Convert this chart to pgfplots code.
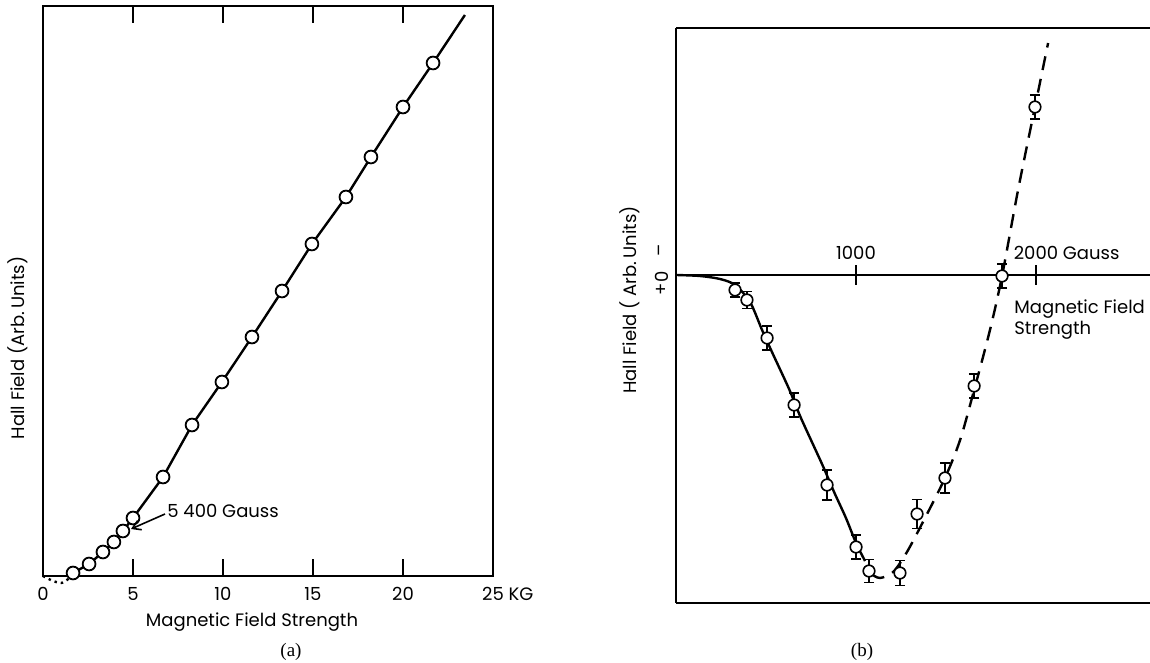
\documentclass[border=0pt]{standalone}
\usepackage{fontspec}
\setmainfont{Poppins}
\newfontfamily\serif{Liberation Serif}
\usepackage{pgfplots}
\pgfplotsset{compat=1.18}
\usetikzlibrary{arrows.meta}

\begin{document}
\begin{tikzpicture}[font=\fontsize{9}{10.5}\selectfont]
\path[use as bounding box] (0,0) rectangle (575pt,331.5pt);

% panel (a)
\begin{axis}[at={(21.5pt,43.5pt)}, anchor=south west, scale only axis,
  width=225pt, height=285pt,
  xmin=0, xmax=25, ymin=0, ymax=57, clip=false,
  axis line style={line width=0.85pt},
  xtick={0,5,10,15,20,25}, xticklabels={0,5,10,15,20,25\rlap{ KG}},
  xticklabel pos=lower, xtick pos=both,
  tick align=inside, major tick length=8.5pt,
  tick style={line width=0.9pt, black},
  ytick=\empty,
  xticklabel style={yshift=-2.3pt, font=\fontsize{9}{10.5}\selectfont},
]
\addplot[line width=1.2pt, dotted, smooth] coordinates {
  (0,0) (0.5,-0.45) (1.0,-0.7) (1.4,-0.3) (1.67,0.3)};
\addplot[line width=1.2pt] coordinates {
  (1.67,0.3) (2.56,1.2) (3.33,2.4) (3.94,3.4) (4.44,4.5) (5.0,5.8)
  (6.67,9.9) (8.28,15.1) (9.94,19.4) (11.61,23.9) (13.28,28.5)
  (14.94,33.2) (16.83,37.9) (18.22,41.9) (20.0,46.9) (21.67,51.3) (23.44,56.1)};
\addplot[only marks, mark=*, mark size=3.2pt,
  mark options={fill=white, draw=black, line width=0.9pt}] coordinates {
  (1.67,0.3) (2.56,1.2) (3.33,2.4) (3.94,3.4) (4.44,4.5) (5.0,5.8)
  (6.67,9.9) (8.28,15.1) (9.94,19.4) (11.61,23.9) (13.28,28.5)
  (14.94,33.2) (16.83,37.9) (18.22,41.9) (20.0,46.9) (21.67,51.3)};
\end{axis}

% panel (b)
\begin{axis}[at={(338pt,30pt)}, anchor=south west, scale only axis,
  width=237pt, height=287.5pt,
  xmin=0, xmax=2633, ymin=-32.8, ymax=24.7, clip=false,
  axis x line*=box, axis y line*=left,
  axis line style={line width=0.85pt},
  xtick=\empty, ytick=\empty,
]
\draw[line width=0.85pt] (axis cs:0,0) -- (axis cs:2633,0);
\draw[line width=0.9pt] (axis cs:1000,-1) -- (axis cs:1000,1);
\draw[line width=0.9pt] (axis cs:2000,-1) -- (axis cs:2000,1);
\addplot[line width=1.2pt, smooth] coordinates {
  (0,0) (133,-0.1) (244,-0.4) (328,-1.0) (411,-2.7) (478,-5.5) (533,-7.7)
  (628,-11.4) (694,-14.3) (811,-18.9) (878,-21.7) (944,-24.3) (1000,-26.8)
  (1050,-28.6)};
\addplot[line width=1.2pt, smooth, dash pattern=on 7pt off 4.5pt] coordinates {
  (1085,-29.9) (1133,-30.3) (1206,-29.7) (1283,-27.7) (1383,-24.3)
  (1494,-20.3) (1578,-16.5) (1656,-11.5) (1744,-5.5) (1811,-0.1)
  (1900,8.5) (1994,16.8) (2067,23.2)};
\addplot[only marks, mark=*, mark size=2.9pt,
  mark options={fill=white, draw=black, line width=0.8pt},
  error bars/.cd, y dir=both, y explicit,
  error bar style={line width=0.85pt},
  error mark options={rotate=90, mark size=2.6pt, line width=0.85pt}]
  coordinates {
  (328,-1.5) +- (0,0.7)
  (394,-2.5) +- (0,0.85)
  (506,-6.3) +- (0,1.2)
  (656,-13.0) +- (0,1.2)
  (839,-21.0) +- (0,1.5)
  (1000,-27.2) +- (0,1.2)
  (1072,-29.6) +- (0,1.15)
  (1244,-29.8) +- (0,1.25)
  (1339,-23.9) +- (0,1.45)
  (1494,-20.3) +- (0,1.5)
  (1656,-11.1) +- (0,1.2)
  (1811,-0.1) +- (0,1.2)
  (1994,16.8) +- (0,1.2)};
\end{axis}

% texts, positions in reference pixels
\begin{scope}[x=0.5pt, y=-0.5pt, yshift=331.5pt]
\node[rotate=90] at (18,348) {Hall Field (Arb.\,Units)};
\node at (252,622) {Magnetic Field Strength};
\node[font=\serif\fontsize{9.5}{11}\selectfont] at (291,652) {(a)};
\node[anchor=west, inner sep=0pt] at (167,511) {5 400 Gauss};
\draw[line width=0.8pt, -{Straight Barb[length=4pt,width=5pt]}] (165,514) -- (131,529);

\node[rotate=90] at (630,300) {Hall Field (~Arb.\,Units)};
\node[rotate=90] at (662,289) {+};
\node[rotate=90] at (662,277) {0};
\node[rotate=90] at (662,250) {–};
\node at (856,253) {1000};
\node at (1036,253) {2000\rlap{ Gauss}};
\node[anchor=north west, align=left, inner sep=0pt] at (1014,299) {Magnetic Field\\Strength};
\node[font=\serif\fontsize{9.5}{11}\selectfont] at (862,652) {(b)};
\end{scope}
\end{tikzpicture}
\end{document}
